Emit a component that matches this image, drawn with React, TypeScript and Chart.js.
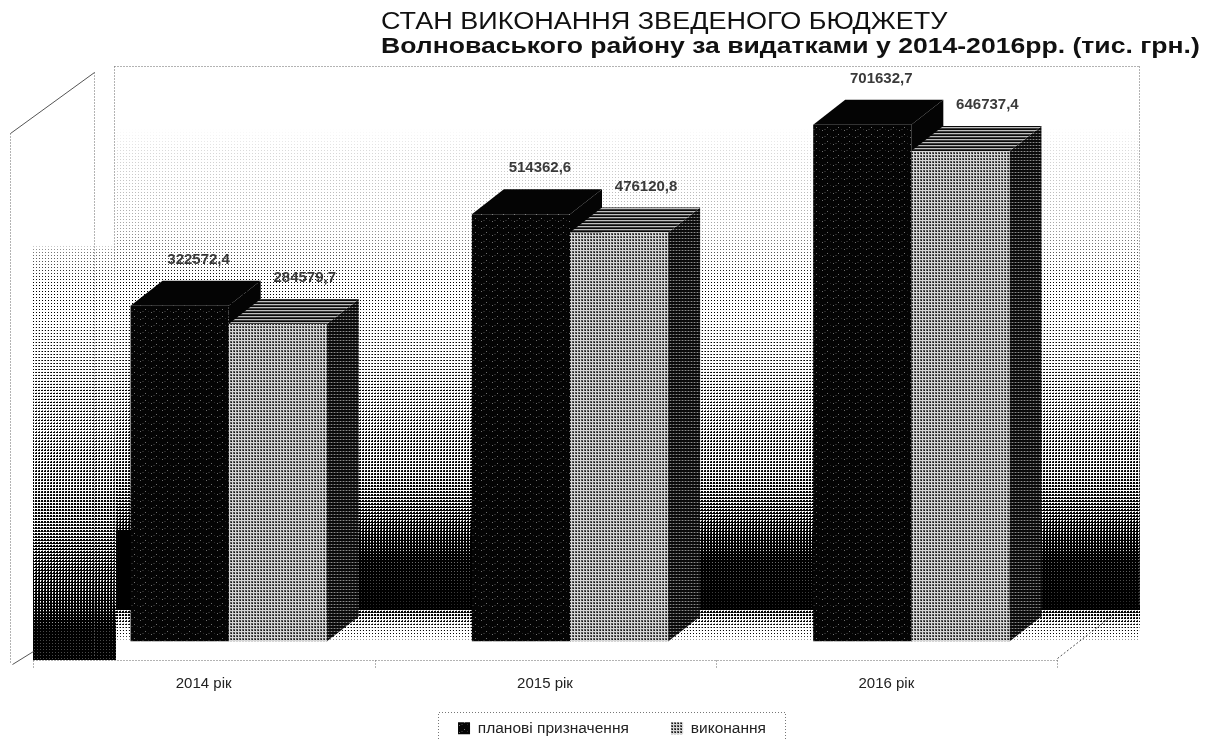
import React, { useEffect, useRef } from "react";
import { Chart, registerables } from "chart.js";

Chart.register(...registerables);

const categories = ["2014 рік", "2015 рік", "2016 рік"];
const planValues = [322572.4, 514362.6, 701632.7];
const execValues = [284579.7, 476120.8, 646737.4];
const seriesNames = ["планові призначення", "виконання"];
const titleLine1 = "СТАН ВИКОНАННЯ ЗВЕДЕНОГО БЮДЖЕТУ";
const titleLine2 = "Волноваського району за видатками у 2014-2016рр. (тис. грн.)";
const FONT = '"Liberation Sans", Arial, sans-serif';
const W = 1218;
const H = 739;

// halftone thresholds: a 3px screen, as on the scanned original
const T = [
  [0.95, 0.45, 0.75],
  [0.35, 0.05, 0.25],
  [0.65, 0.15, 0.55],
];
const px = (level: number, x: number, y: number) => {
  const v = (level - T[y % 3][x % 3]) / 0.14 + 0.5;
  return Math.round(255 * Math.max(0, Math.min(1, v)));
};
const wallStops: [number, number][] = [
  [66, 1.1], [105, 1.04], [150, 1.0], [227, 0.97], [293, 0.86], [393, 0.66], [477, 0.5],
  [510, 0.36], [537, 0.18], [560, 0.04], [608, 0], [609, 0.35], [625, 0.72], [640, 0.98], [646, 1.1],
];
const sideStops: [number, number][] = [
  [235, 1.1], [250, 0.95], [367, 0.72], [467, 0.56], [533, 0.42], [600, 0.18], [630, 0.02],
];
const lerpStops = (s: [number, number][], y: number) => {
  if (y <= s[0][0]) return s[0][1];
  for (let i = 1; i < s.length; i++) {
    if (y <= s[i][0]) {
      const [a, b] = [s[i - 1], s[i]];
      return a[1] + ((b[1] - a[1]) * (y - a[0])) / (b[0] - a[0]);
    }
  }
  return s[s.length - 1][1];
};

function makeBackdrop(): HTMLCanvasElement {
  const c = document.createElement("canvas");
  c.width = W;
  c.height = H;
  const g = c.getContext("2d")!;
  const img = g.createImageData(W, H);
  for (let y = 0; y < H; y++) {
    for (let x = 0; x < W; x++) {
      let v = 255;
      if (x >= 116 && x < 1140 && y >= 66 && y < 650) v = px(lerpStops(wallStops, y), x, y);
      else if (x >= 33 && x < 116 && y >= 235 && y < 660) v = px(lerpStops(sideStops, y), x, y);
      const i = (y * W + x) * 4;
      img.data[i] = img.data[i + 1] = img.data[i + 2] = v;
      img.data[i + 3] = 255;
    }
  }
  g.putImageData(img, 0, 0);
  return c;
}

function tile(w: number, h: number, fn: (x: number, y: number) => number) {
  const c = document.createElement("canvas");
  c.width = w;
  c.height = h;
  const g = c.getContext("2d")!;
  const img = g.createImageData(w, h);
  for (let y = 0; y < h; y++)
    for (let x = 0; x < w; x++) {
      const i = (y * w + x) * 4;
      const v = fn(x, y);
      img.data[i] = img.data[i + 1] = img.data[i + 2] = v;
      img.data[i + 3] = 255;
    }
  g.putImageData(img, 0, 0);
  return g.createPattern(c, "repeat")!;
}

export default function App() {
  const ref = useRef<HTMLCanvasElement>(null);
  useEffect(() => {
    document.body.style.margin = "0";
    const planFill = tile(11, 7, (x, y) =>
      (x === 2 && y === 1) || (x === 8 && y === 4) ? 110 : y === 3 && x % 5 === 0 ? 40 : 4,
    );
    const execFill = tile(3, 3, (x, y) => (x === 1 || y === 1 ? 215 : x === 0 && y === 0 ? 20 : 90));
    const execSide = tile(3, 3, (x, y) => (y === 1 ? (x === 1 ? 140 : 60) : 10));
    const execTop = tile(4, 3, (x, y) => (y === 1 ? 190 : y === 2 ? 60 : 10));
    const backdrop = makeBackdrop();
    const dx = 32;
    const dy = 25;

    const scenery = {
      id: "scenery",
      beforeDraw(chart: any) {
        const { ctx } = chart;
        ctx.save();
        ctx.drawImage(backdrop, 0, 0);
        ctx.fillStyle = "#000";
        ctx.fillRect(116, 530, 15, 78);
        ctx.strokeStyle = "#666";
        ctx.lineWidth = 1;
        ctx.setLineDash([1, 2]);
        const seg = (x1: number, y1: number, x2: number, y2: number) => {
          ctx.beginPath();
          ctx.moveTo(x1 + 0.5, y1 + 0.5);
          ctx.lineTo(x2 + 0.5, y2 + 0.5);
          ctx.stroke();
        };
        seg(114, 66, 1140, 66);
        seg(114, 66, 114, 605);
        seg(1139, 66, 1139, 605);
        seg(94, 72, 94, 655);
        seg(10, 133, 10, 664);
        seg(33, 660, 1057, 660);
        [33, 375, 716, 1057].forEach((x) => seg(x, 660, x, 667));
        ctx.setLineDash([]);
        ctx.strokeStyle = "#555";
        seg(10, 133, 94, 72);
        seg(12, 664, 33, 651);
        ctx.setLineDash([2, 2]);
        seg(1057, 658, 1112, 615);
        ctx.restore();
      },
      beforeDatasetsDraw(chart: any) {
        const { ctx } = chart;
        const fills = [
          { top: "#040404", side: "#040404" },
          { top: execTop, side: execSide },
        ];
        ctx.save();
        [0, 1].forEach((d) => {
          chart.getDatasetMeta(d).data.forEach((bar: any) => {
            const l = bar.x - bar.width / 2;
            const r = bar.x + bar.width / 2;
            const poly = (pts: number[][], fill: any) => {
              ctx.fillStyle = fill;
              ctx.beginPath();
              pts.forEach((p, i) => (i ? ctx.lineTo(p[0], p[1]) : ctx.moveTo(p[0], p[1])));
              ctx.closePath();
              ctx.fill();
            };
            poly([[r, bar.y], [r + dx, bar.y - dy], [r + dx, bar.base - dy], [r, bar.base]], fills[d].side);
            poly([[l, bar.y], [l + dx, bar.y - dy], [r + dx, bar.y - dy], [r, bar.y]], fills[d].top);
          });
        });
        ctx.restore();
      },
      afterDraw(chart: any) {
        const { ctx } = chart;
        ctx.save();
        // value labels above each bar
        ctx.textAlign = "center";
        ctx.textBaseline = "middle";
        ctx.font = `bold 15px ${FONT}`;
        ctx.fillStyle = "#3a3a3a";
        [0, 1].forEach((d) => {
          chart.getDatasetMeta(d).data.forEach((bar: any, i: number) => {
            const v = chart.data.datasets[d].data[i] as number;
            ctx.fillText(v.toFixed(1).replace(".", ","), bar.x + (d ? 27 : 19), bar.y - 46);
          });
        });
        // titles: the scanned original is a little wider than the font's natural width
        ctx.textAlign = "left";
        ctx.textBaseline = "alphabetic";
        ctx.fillStyle = "#111";
        ctx.save();
        ctx.translate(381, 29);
        ctx.scale(1.175, 1);
        ctx.font = `23px ${FONT}`;
        ctx.fillText(titleLine1, 0, 0);
        ctx.restore();
        ctx.save();
        ctx.translate(381, 53);
        ctx.scale(1.208, 1);
        ctx.font = `bold 22px ${FONT}`;
        ctx.fillText(titleLine2, 0, 0);
        ctx.restore();
        // legend frame
        ctx.strokeStyle = "#777";
        ctx.setLineDash([1, 2]);
        ctx.beginPath();
        ctx.moveTo(438.5, H);
        ctx.lineTo(438.5, 712.5);
        ctx.lineTo(785.5, 712.5);
        ctx.lineTo(785.5, H);
        ctx.stroke();
        ctx.restore();
      },
    };

    const chart = new Chart(ref.current!, {
      type: "bar",
      data: {
        labels: categories,
        datasets: [
          { label: seriesNames[0], data: planValues, backgroundColor: planFill, base: -380700 } as any,
          { label: seriesNames[1], data: execValues, backgroundColor: execFill, base: -380700 } as any,
        ],
      },
      options: {
        responsive: false,
        animation: false,
        layout: { padding: { left: 6, right: 0, top: 66, bottom: -7 } },
        datasets: { bar: { categoryPercentage: 0.575, barPercentage: 1 } },
        plugins: {
          tooltip: { enabled: false },
          title: { display: false },
          legend: {
            position: "bottom",
            labels: {
              boxWidth: 12,
              boxHeight: 12,
              padding: 25,
              color: "#222",
              font: { family: FONT, size: 15.5 },
              generateLabels: (c: any) =>
                Chart.defaults.plugins.legend.labels.generateLabels(c).map((it: any, i: number) => ({
                  ...it,
                  text: i === 0 ? it.text + "\u00A0\u00A0\u00A0\u00A0" : it.text,
                })),
            },
          },
        },
        scales: {
          x: {
            grid: { display: false },
            border: { display: false },
            ticks: { color: "#222", font: { family: FONT, size: 15 }, padding: 25, labelOffset: -25 },
            afterFit: (s: any) => {
              s.height = 54;
            },
          },
          y: {
            min: -380700,
            max: 824800,
            grid: { display: false },
            border: { display: false },
            ticks: { display: false },
            afterFit: (s: any) => {
              s.width = 52;
            },
          },
          yRight: {
            position: "right",
            min: 0,
            max: 1,
            grid: { display: false },
            border: { display: false },
            ticks: { display: false },
            afterFit: (s: any) => {
              s.width = 136;
            },
          },
        },
      } as any,
      plugins: [scenery],
    });
    return () => chart.destroy();
  }, []);
  return (
    <div style={{ position: "absolute", left: 0, top: 0, width: W, height: H, overflow: "hidden" }}>
      <canvas ref={ref} width={W} height={H} style={{ display: "block" }} />
    </div>
  );
}
